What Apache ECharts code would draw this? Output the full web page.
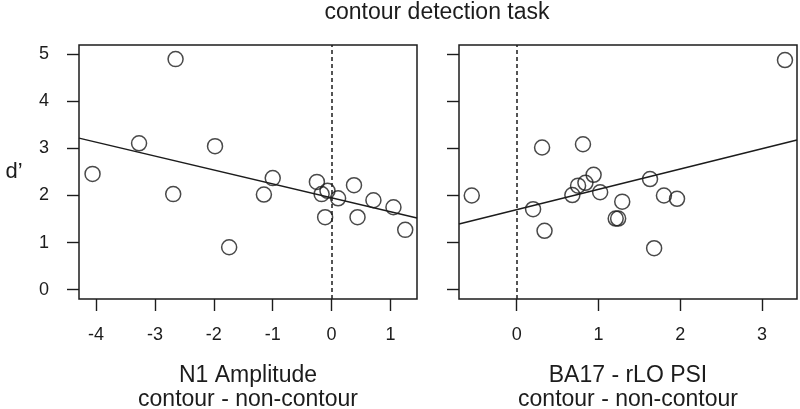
<!DOCTYPE html>
<html>
<head>
<meta charset="utf-8">
<script src="https://cdn.jsdelivr.net/npm/echarts@6/dist/echarts.min.js"></script>
<style>
  html, body { margin: 0; padding: 0; background: #fff; }
  #chart { width: 800px; height: 409px; }
</style>
</head>
<body>
<div id="chart"></div>
<script>
// left panel: N1 amplitude difference vs d'
const n1X = [-4.06, -2.65, -3.27, -1.98, -2.69, -1.74, -1.00, -1.15, -0.25, -0.07, -0.17, -0.11, 0.11, 0.38, 0.44, 0.71, 1.05, 1.25]
const n1Y = [2.46, 4.90, 3.11, 3.05, 2.03, 0.90, 2.37, 2.02, 2.29, 2.10, 2.03, 1.54, 1.94, 2.22, 1.54, 1.90, 1.75, 1.27]
const n1Fit = { intercept: 1.95, slope: -0.296 }

// right panel: BA17 - rLO PSI difference vs d'
const psiX = [3.28, 0.31, 0.81, 0.94, 0.84, 0.75, 0.68, 1.02, -0.55, 0.20, 0.34, 1.29, 1.21, 1.24, 1.63, 1.80, 1.96, 1.68]
const psiY = [4.88, 3.02, 3.09, 2.44, 2.27, 2.21, 2.01, 2.07, 2.00, 1.71, 1.25, 1.87, 1.51, 1.51, 2.35, 2.00, 1.93, 0.88]
const psiFit = { intercept: 1.70, slope: 0.432 }

const n1Ticks = [-4, -3, -2, -1, 0, 1]
const psiTicks = [0, 1, 2, 3]
const yTicks = [0, 1, 2, 3, 4, 5]

const n1Range = [-4.29, 1.45]
const psiRange = [-0.706, 3.427]
const yRange = [-0.2, 5.2]

const ink = '#1c1c1c'
const font = 'Liberation Sans, Arial, Helvetica, sans-serif'

const fitLine = (fit, range) => range.map(x => [x, fit.intercept + fit.slope * x])
const pairs = (xs, ys) => xs.map((x, i) => [x, ys[i]])

const xAxisBase = (idx, range, ticks, name) => ({
  type: 'value',
  gridIndex: idx,
  min: range[0],
  max: range[1],
  axisLine: { show: false, onZero: false },
  splitLine: { show: false },
  axisTick: { show: true, inside: false, length: 12, customValues: ticks, lineStyle: { color: ink, width: 1.4 } },
  axisLabel: { customValues: ticks, margin: 27, fontSize: 18, color: ink, fontFamily: font },
  name: name,
  nameLocation: 'middle',
  nameGap: 65,
  nameTextStyle: { fontSize: 23, lineHeight: 24, color: ink, fontFamily: font },
})

const yAxisBase = (idx, showLabels) => ({
  type: 'value',
  gridIndex: idx,
  min: yRange[0],
  max: yRange[1],
  axisLine: { show: false, onZero: false },
  splitLine: { show: false },
  axisTick: { show: true, inside: false, length: 12, customValues: yTicks, lineStyle: { color: ink, width: 1.4 } },
  axisLabel: { show: showLabels, customValues: yTicks, margin: 30, fontSize: 18, color: ink, fontFamily: font },
})

const pointStyle = {
  type: 'scatter',
  symbol: 'circle',
  symbolSize: 15,
  itemStyle: { color: 'rgba(0,0,0,0)', borderColor: ink, borderWidth: 1.5 },
  silent: true,
}

const zeroLine = {
  silent: true,
  symbol: 'none',
  label: { show: false },
  lineStyle: { color: ink, width: 1.5, type: [4, 3] },
  data: [{ xAxis: 0 }],
}

const gridBase = { top: 45, bottom: 110, show: true, borderColor: ink, borderWidth: 1.5, backgroundColor: 'transparent', containLabel: false, outerBoundsMode: 'none' }

const chart = echarts.init(document.getElementById('chart'), null, { renderer: 'canvas' })
chart.setOption({
  animation: false,
  backgroundColor: '#fff',
  grid: [
    { ...gridBase, left: 79, right: 383 },
    { ...gridBase, left: 459, right: 3 },
  ],
  xAxis: [
    xAxisBase(0, n1Range, n1Ticks, 'N1 Amplitude\ncontour - non-contour'),
    xAxisBase(1, psiRange, psiTicks, 'BA17 - rLO PSI\ncontour - non-contour'),
  ],
  yAxis: [yAxisBase(0, true), yAxisBase(1, false)],
  graphic: [
    { type: 'text', x: 437, y: 13, style: { text: 'contour detection task', fontSize: 23, fontFamily: font, fill: ink, textAlign: 'center', textVerticalAlign: 'middle' } },
    { type: 'text', x: 14, y: 172, style: { text: 'd’', fontSize: 22, fontFamily: font, fill: ink, textAlign: 'center', textVerticalAlign: 'middle' } },
  ],
  series: [
    { ...pointStyle, xAxisIndex: 0, yAxisIndex: 0, data: pairs(n1X, n1Y), markLine: zeroLine },
    { type: 'line', xAxisIndex: 0, yAxisIndex: 0, data: fitLine(n1Fit, n1Range), showSymbol: false, silent: true, lineStyle: { color: ink, width: 1.5 } },
    { ...pointStyle, xAxisIndex: 1, yAxisIndex: 1, data: pairs(psiX, psiY), markLine: zeroLine },
    { type: 'line', xAxisIndex: 1, yAxisIndex: 1, data: fitLine(psiFit, psiRange), showSymbol: false, silent: true, lineStyle: { color: ink, width: 1.5 } },
  ],
})
</script>
</body>
</html>
